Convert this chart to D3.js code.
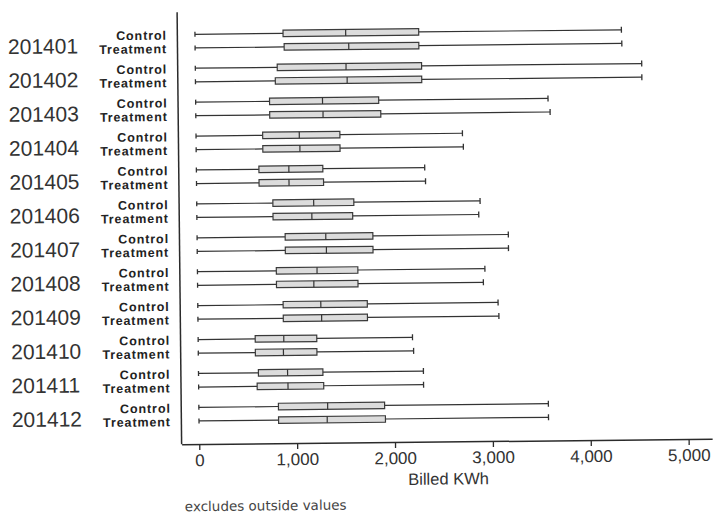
<!DOCTYPE html>
<html>
<head>
<meta charset="utf-8">
<script src="https://cdn.jsdelivr.net/npm/d3@7"></script>
<style>
  html, body { margin: 0; padding: 0; background: #fff; }
  svg { display: block; }
</style>
</head>
<body>
<svg id="chart" width="713" height="518"></svg>
<script>
// Billed kWh box plots, Control vs Treatment by billing month
const periods = ['201401', '201402', '201403', '201404', '201405', '201406',
  '201407', '201408', '201409', '201410', '201411', '201412'];
const groups = ['Control', 'Treatment'];

const lowControl = [0, 0, 0, 0, 0, 0, 0, 0, 0, 0, 0, 0];
const q1Control = [900, 837, 755, 681, 639, 778, 900, 806, 872, 583, 612, 813];
const medianControl = [1540, 1540, 1296, 1055, 945, 1195, 1315, 1222, 1257, 875, 910, 1316];
const q3Control = [2286, 2312, 1870, 1470, 1292, 1605, 1796, 1639, 1732, 1212, 1271, 1898];
const highControl = [4357, 4561, 3600, 2722, 2333, 2895, 3180, 2937, 3068, 2190, 2298, 3571];

const lowTreatment = [0, 0, 0, 0, 0, 0, 0, 0, 0, 0, 0, 0];
const q1Treatment = [910, 816, 755, 681, 639, 778, 900, 806, 872, 583, 598, 813];
const medianTreatment = [1570, 1550, 1300, 1060, 945, 1175, 1320, 1188, 1264, 870, 913, 1310];
const q3Treatment = [2286, 2312, 1890, 1470, 1298, 1592, 1796, 1639, 1732, 1212, 1278, 1905];
const highTreatment = [4360, 4561, 3620, 2730, 2340, 2880, 3180, 2920, 3075, 2200, 2298, 3571];

const xTicks = [0, 1000, 2000, 3000, 4000, 5000];

const data = [];
periods.forEach((p, i) => {
  data.push({ period: p, group: 'Control', low: lowControl[i], q1: q1Control[i],
    median: medianControl[i], q3: q3Control[i], high: highControl[i] });
  data.push({ period: p, group: 'Treatment', low: lowTreatment[i], q1: q1Treatment[i],
    median: medianTreatment[i], q3: q3Treatment[i], high: highTreatment[i] });
});

const svg = d3.select('#chart');
// the scanned original is slightly skewed
const root = svg.append('g').attr('transform', 'rotate(-0.6, 400, 240)');

const font = '"Liberation Sans", Arial, sans-serif';
const ink = '#2b2b2b';

const axisLeftX = 179.5;
const axisY = 442;

const x = d3.scaleLinear().domain([-180, 5240]).range([axisLeftX, 710]);

const y = d3.scaleBand().domain(periods).range([22, 429]).padding(0);
const yInner = d3.scalePoint().domain(groups).range([-6.8, 6.8]);
const rowY = d => y(d.period) + y.bandwidth() / 2 + yInner(d.group);

// x axis
const xAxis = root.append('g')
  .attr('transform', `translate(0, ${axisY})`)
  .call(d3.axisBottom(x).tickValues(xTicks).tickFormat(d3.format(',')).tickSize(6).tickSizeOuter(0));
xAxis.select('.domain').attr('stroke', ink).attr('stroke-width', 1.5);
xAxis.selectAll('.tick line').attr('stroke', ink).attr('stroke-width', 1.3);
xAxis.selectAll('.tick text')
  .attr('y', 10)
  .attr('fill', '#333')
  .style('font-family', font)
  .style('font-size', '17px');

// y axis line
root.append('line')
  .attr('x1', axisLeftX).attr('x2', axisLeftX)
  .attr('y1', 10).attr('y2', axisY)
  .attr('stroke', ink).attr('stroke-width', 1.5);

// axis title
root.append('text')
  .attr('x', 446)
  .attr('y', 485)
  .attr('text-anchor', 'middle')
  .attr('fill', '#333')
  .style('font-family', font)
  .style('font-size', '16.5px')
  .text('Billed KWh');

// footnote
root.append('text')
  .attr('x', 182)
  .attr('y', 509)
  .attr('fill', '#444')
  .style('font-family', '"DejaVu Sans", Verdana, sans-serif')
  .style('font-size', '13.5px')
  .text('excludes outside values');

// period labels
root.selectAll('.period-label')
  .data(periods)
  .enter()
  .append('text')
  .attr('class', 'period-label')
  .attr('x', 10)
  .attr('y', d => y(d) + y.bandwidth() / 2 + 11)
  .attr('fill', '#333')
  .style('font-family', font)
  .style('font-size', '21px')
  .text(d => d);

// group labels
root.selectAll('.group-label')
  .data(data)
  .enter()
  .append('text')
  .attr('class', 'group-label')
  .attr('x', 169)
  .attr('y', d => rowY(d) + 5)
  .attr('text-anchor', 'end')
  .attr('fill', '#222')
  .style('font-family', font)
  .style('font-size', '12.5px')
  .style('font-weight', 'bold')
  .style('letter-spacing', '0.9px')
  .text(d => d.group);

// box plots
const boxH = 6.5;
const boxes = root.selectAll('.box')
  .data(data)
  .enter()
  .append('g')
  .attr('class', 'box');

boxes.append('line')
  .attr('x1', d => x(d.low)).attr('x2', d => x(d.q1))
  .attr('y1', rowY).attr('y2', rowY)
  .attr('stroke', '#333').attr('stroke-width', 1.2);

boxes.append('line')
  .attr('x1', d => x(d.q3)).attr('x2', d => x(d.high))
  .attr('y1', rowY).attr('y2', rowY)
  .attr('stroke', '#333').attr('stroke-width', 1.2);

boxes.append('line')
  .attr('x1', d => x(d.low)).attr('x2', d => x(d.low))
  .attr('y1', d => rowY(d) - 2.5).attr('y2', d => rowY(d) + 2.5)
  .attr('stroke', '#333').attr('stroke-width', 1.3);

boxes.append('line')
  .attr('x1', d => x(d.high)).attr('x2', d => x(d.high))
  .attr('y1', d => rowY(d) - 3).attr('y2', d => rowY(d) + 3)
  .attr('stroke', '#333').attr('stroke-width', 1.3);

boxes.append('rect')
  .attr('x', d => x(d.q1))
  .attr('y', d => rowY(d) - boxH / 2)
  .attr('width', d => x(d.q3) - x(d.q1))
  .attr('height', boxH)
  .attr('fill', '#dcdcdc')
  .attr('stroke', '#3a3a3a')
  .attr('stroke-width', 1.2);

boxes.append('line')
  .attr('x1', d => x(d.median)).attr('x2', d => x(d.median))
  .attr('y1', d => rowY(d) - boxH / 2).attr('y2', d => rowY(d) + boxH / 2)
  .attr('stroke', '#333').attr('stroke-width', 1.2);
</script>
</body>
</html>
